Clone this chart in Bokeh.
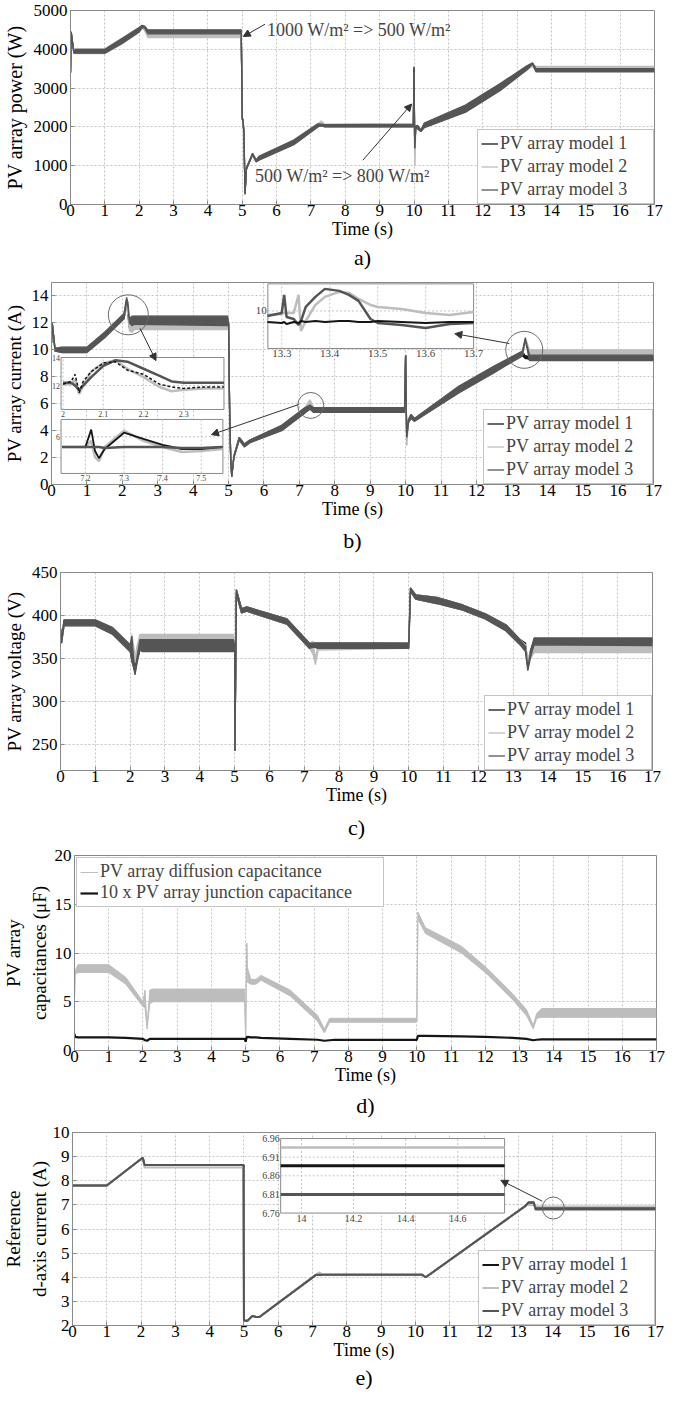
from bokeh.plotting import figure
from bokeh.models import Range1d, FixedTicker, Legend, LegendItem, Arrow, NormalHead, Title, Label
from bokeh.layouts import column
from bokeh.embed import file_html
from bokeh.resources import INLINE

FONT = "Liberation Serif"
C1, C2, C3 = "#151515", "#bdbdbd", "#555555"
GRID = "#c4c4c4"
EDGE = "#8a8a8a"

# ---------------- data ----------------
X_TICKS = list(range(0, 18))
MODEL_NAMES = ["PV array model 1", "PV array model 2", "PV array model 3"]
CAP_NAMES = ["PV array diffusion capacitance", "10 x PV array junction capacitance"]

# a) PV array power (W): noisy band low / high
A_T = [0, 0.02, 0.05, 0.1, 0.15, 0.3, 1.0, 1.5, 2.0, 2.08, 2.15, 2.25, 2.35, 4.97, 5.0, 5.02, 5.05, 5.08, 5.12, 5.3,
       5.4, 5.5, 6.5, 7.2, 7.3, 7.4, 9.98, 10.0, 10.02, 10.05, 10.1, 10.2, 10.3, 11.5, 12.5, 13.3, 13.45, 13.55, 17.0]
A_M1_LO = [3400, 4440, 4200, 3900, 3920, 3920, 3920, 4170, 4470, 4560, 4560, 4420, 4420, 4420, 2200, 2150, 1800, 260, 900, 1290,
           1110, 1170, 1560, 2010, 2030, 2010, 2010, 3500, 1400, 1990, 1960, 1890, 2000, 2400, 2950, 3490, 3600, 3440, 3440]
A_M1_HI = [3400, 4440, 4240, 3940, 3980, 3980, 3980, 4260, 4540, 4600, 4590, 4480, 4480, 4480, 2200, 2200, 1840, 280, 940, 1310,
           1140, 1230, 1640, 2060, 2060, 2050, 2050, 3500, 1400, 2010, 2030, 1910, 2080, 2540, 3090, 3560, 3630, 3480, 3480]
A_M2_LO = [3400, 4450, 4200, 3900, 3890, 3890, 3890, 4140, 4440, 4540, 4500, 4300, 4300, 4300, 2200, 2150, 1800, 280, 900, 1280,
           1100, 1150, 1540, 2000, 2080, 2010, 2000, 3400, 1000, 1980, 1950, 1880, 1980, 2380, 2930, 3480, 3560, 3450, 3450]
A_M2_HI = [3400, 4450, 4250, 3950, 4010, 4010, 4010, 4290, 4570, 4600, 4580, 4500, 4500, 4500, 2200, 2200, 1850, 300, 950, 1320,
           1150, 1250, 1660, 2080, 2150, 2070, 2070, 3400, 1000, 2020, 2040, 1920, 2100, 2560, 3110, 3580, 3620, 3560, 3560]
A_M3_LO = [3400, 4450, 4200, 3900, 3900, 3900, 3900, 4150, 4450, 4550, 4560, 4400, 4400, 4400, 2200, 2150, 1800, 280, 900, 1280,
           1100, 1150, 1540, 2000, 2030, 2000, 2000, 3550, 1450, 1980, 1950, 1880, 1980, 2380, 2930, 3480, 3620, 3420, 3420]
A_M3_HI = [3400, 4450, 4250, 3950, 4000, 4000, 4000, 4280, 4560, 4620, 4600, 4500, 4500, 4500, 2200, 2200, 1850, 300, 950, 1320,
           1150, 1250, 1660, 2080, 2070, 2060, 2070, 3550, 1450, 2020, 2040, 1920, 2100, 2560, 3110, 3580, 3650, 3500, 3500]
A_Y_TICKS = [0, 1000, 2000, 3000, 4000, 5000]

# b) PV array current (A)
B_T = [0, 0.02, 0.1, 0.3, 1.0, 1.5, 2.05, 2.12, 2.16, 2.2, 2.27, 2.35, 4.97, 5.0, 5.03, 5.06, 5.09, 5.15, 5.3, 5.45,
       5.6, 6.5, 7.15, 7.3, 7.4, 9.97, 10.0, 10.03, 10.08, 10.15, 10.25, 11.5, 12.5, 13.3, 13.38, 13.42, 13.5, 13.6, 17.0]
B_M1_LO = [10.5, 12.0, 9.9, 9.85, 9.85, 10.95, 12.35, 13.5, 12.5, 11.6, 11.9, 11.9, 11.9, 12.0, 5.5, 2.0, 0.6, 2.0, 3.3, 2.8,
           3.1, 4.05, 5.35, 5.6, 5.4, 5.4, 9.6, 3.5, 4.6, 4.9, 4.7, 6.85, 8.35, 9.55, 9.35, 9.35, 9.3, 9.3, 9.3]
B_M1_HI = [10.5, 12.0, 10.1, 10.15, 10.15, 11.25, 12.65, 13.7, 12.8, 11.9, 12.4, 12.4, 12.4, 12.0, 5.5, 2.0, 0.6, 2.1, 3.5, 3.0,
           3.3, 4.35, 5.65, 6.1, 5.65, 5.65, 9.6, 3.5, 4.8, 5.2, 4.9, 7.25, 8.75, 9.85, 9.55, 9.55, 9.5, 9.5, 9.5]
B_M2_LO = [10.5, 12.0, 9.9, 9.8, 9.8, 10.9, 12.3, 13.4, 12.6, 11.4, 11.3, 11.5, 11.5, 12.0, 5.5, 2.0, 0.6, 2.0, 3.3, 2.8,
           3.1, 4.0, 5.3, 5.8, 5.35, 5.35, 9.6, 2.9, 4.6, 4.9, 4.7, 6.8, 8.3, 9.6, 10.5, 10.4, 9.4, 9.4, 9.4]
B_M2_HI = [10.5, 12.0, 10.1, 10.2, 10.2, 11.3, 12.7, 13.7, 12.9, 11.8, 12.4, 12.5, 12.5, 12.0, 5.5, 2.0, 0.6, 2.1, 3.5, 3.0,
           3.3, 4.4, 5.7, 6.3, 5.7, 5.7, 9.6, 2.9, 4.8, 5.2, 4.9, 7.3, 8.8, 9.9, 10.8, 10.6, 10.0, 10.0, 10.0]
B_M3_LO = [10.5, 12.0, 9.9, 9.8, 9.8, 10.9, 12.3, 13.6, 13.2, 12.0, 11.8, 11.9, 11.8, 12.0, 5.5, 2.0, 0.6, 2.0, 3.3, 2.8,
           3.1, 4.0, 5.3, 5.6, 5.35, 5.35, 9.6, 3.5, 4.6, 4.9, 4.7, 6.8, 8.3, 9.6, 10.8, 10.2, 9.2, 9.2, 9.2]
B_M3_HI = [10.5, 12.0, 10.1, 10.2, 10.2, 11.3, 12.7, 13.9, 13.5, 12.3, 12.5, 12.5, 12.5, 12.0, 5.5, 2.0, 0.6, 2.1, 3.5, 3.0,
           3.3, 4.4, 5.7, 5.9, 5.7, 5.7, 9.6, 3.5, 4.8, 5.2, 4.9, 7.3, 8.8, 9.9, 10.9, 10.4, 9.6, 9.6, 9.6]
B_Y_TICKS = [0, 2, 4, 6, 8, 10, 12, 14]

# b) zoomed insets
BI1_T = [2.0, 2.02, 2.03, 2.04, 2.05, 2.07, 2.1, 2.13, 2.16, 2.2, 2.24, 2.27, 2.3, 2.35, 2.4]
BI1_M1 = [12.1, 12.3, 12.8, 11.5, 12.3, 13.0, 13.6, 13.7, 13.1, 12.8, 12.1, 11.9, 11.8, 11.9, 11.9]
BI1_M2 = [12.1, 12.1, 12.4, 11.4, 12.0, 13.0, 13.6, 13.8, 13.2, 12.6, 11.9, 11.6, 11.7, 11.8, 11.8]
BI1_M3 = [12.2, 12.2, 12.0, 11.7, 12.0, 12.6, 13.4, 13.8, 13.7, 13.2, 12.7, 12.3, 12.2, 12.2, 12.2]
BI1_X_TICKS, BI1_X_LABELS = [2.0, 2.1, 2.2, 2.3], ["2", "2.1", "2.2", "2.3"]
BI1_Y_TICKS, BI1_Y_LABELS = [12, 14], ["12", "14"]

BI2_T = [7.14, 7.2, 7.215, 7.225, 7.235, 7.25, 7.3, 7.35, 7.4, 7.45, 7.5, 7.555]
BI2_M1 = [5.5, 5.5, 6.35, 5.3, 4.95, 5.4, 6.2, 5.9, 5.6, 5.4, 5.4, 5.5]
BI2_M2 = [5.5, 5.5, 5.8, 5.0, 4.8, 5.5, 6.3, 5.8, 5.5, 5.25, 5.3, 5.4]
BI2_M3 = [5.5, 5.5, 5.5, 5.5, 5.5, 5.45, 5.5, 5.5, 5.5, 5.45, 5.45, 5.5]
BI2_X_TICKS, BI2_X_LABELS = [7.2, 7.3, 7.4, 7.5], ["7.2", "7.3", "7.4", "7.5"]
BI2_Y_TICKS, BI2_Y_LABELS = [6], ["6"]

BI3_T = [13.27, 13.3, 13.305, 13.31, 13.325, 13.335, 13.34, 13.35, 13.37, 13.39, 13.42, 13.44, 13.46, 13.485, 13.5,
         13.55, 13.6, 13.65, 13.7]
BI3_M1 = [9.45, 9.4, 9.45, 9.35, 9.45, 9.4, 9.5, 9.45, 9.5, 9.45, 9.5, 9.5, 9.45, 9.45, 9.5, 9.45, 9.4, 9.45, 9.45]
BI3_M2 = [9.8, 9.85, 9.9, 9.9, 9.9, 10.8, 9.0, 9.5, 10.3, 10.7, 10.95, 10.9, 10.6, 10.3, 10.2, 10.1, 9.9, 9.8, 9.95]
BI3_M3 = [9.75, 9.9, 10.8, 9.7, 9.6, 9.3, 9.5, 10.2, 10.7, 11.1, 11.0, 10.8, 10.5, 9.6, 9.4, 9.3, 9.15, 9.35, 9.4]
BI3_X_TICKS, BI3_X_LABELS = [13.3, 13.4, 13.5, 13.6, 13.7], ["13.3", "13.4", "13.5", "13.6", "13.7"]
BI3_Y_TICKS, BI3_Y_LABELS = [10], ["10"]

# c) PV array voltage (V)
C_T = [0, 0.03, 0.1, 0.3, 1.0, 1.5, 2.0, 2.05, 2.1, 2.14, 2.2, 2.28, 2.35, 4.97, 5.0, 5.01, 5.05, 5.2, 5.35, 6.5,
       7.15, 7.25, 7.32, 7.4, 9.98, 10.0, 10.05, 10.2, 10.8, 11.5, 12.2, 12.8, 13.2, 13.35, 13.42, 13.5, 13.6, 17.0]
C_M1_LO = [385, 368, 389, 389, 389, 379, 359, 350, 340, 334, 348, 361, 360, 360, 365, 243, 425, 403, 405, 390,
           362, 363, 363, 362, 362, 362, 428, 419, 414, 407, 396, 382, 366, 362, 340, 355, 366, 365]
C_M1_HI = [385, 372, 394, 394, 394, 385, 365, 372, 350, 338, 352, 370, 370, 370, 365, 243, 430, 408, 410, 396,
           368, 368, 368, 368, 368, 368, 432, 424, 421, 413, 402, 389, 372, 368, 345, 360, 372, 372]
C_M2_LO = [385, 368, 388, 388, 388, 378, 358, 360, 350, 345, 355, 366, 365, 365, 365, 243, 425, 403, 405, 390,
           362, 355, 343, 360, 362, 362, 428, 419, 414, 407, 396, 382, 366, 360, 345, 350, 357, 357]
C_M2_HI = [385, 372, 395, 395, 395, 386, 366, 378, 365, 352, 365, 378, 378, 378, 365, 243, 430, 408, 410, 396,
           368, 370, 350, 366, 368, 368, 432, 424, 421, 413, 402, 389, 372, 366, 350, 358, 368, 368]
C_M3_LO = [385, 368, 388, 388, 388, 378, 358, 346, 340, 331, 345, 360, 358, 358, 365, 243, 425, 403, 405, 390,
           362, 363, 363, 362, 362, 362, 428, 419, 414, 407, 396, 382, 366, 358, 336, 352, 366, 365]
C_M3_HI = [385, 372, 395, 395, 395, 386, 366, 376, 350, 336, 352, 372, 372, 372, 365, 243, 430, 408, 410, 396,
           368, 368, 368, 368, 368, 368, 432, 424, 421, 413, 402, 389, 372, 364, 340, 358, 374, 374]
C_Y_TICKS = [250, 300, 350, 400, 450]

# d) PV array capacitances (uF)
D_T = [0, 0.02, 0.1, 0.3, 1.0, 1.5, 2.0, 2.06, 2.12, 2.2, 2.3, 4.97, 5.0, 5.03, 5.05, 5.15, 5.3, 5.45, 6.3, 7.1,
       7.3, 7.45, 7.6, 9.98, 10.0, 10.03, 10.25, 11.3, 12.0, 12.8, 13.2, 13.4, 13.5, 13.65, 17.0]
D_DIFF_LO = [5.3, 7.8, 8.0, 8.0, 8.0, 6.8, 4.5, 4.4, 2.2, 4.8, 5.0, 5.0, 1.2, 11.0, 7.0, 6.8, 6.8, 7.2, 5.6, 3.0,
             1.8, 2.9, 2.9, 2.9, 3.0, 13.5, 12.0, 10.0, 8.0, 5.2, 3.6, 2.2, 3.3, 3.4, 3.4]
D_DIFF_HI = [5.3, 8.2, 8.8, 8.8, 8.8, 7.5, 5.0, 6.2, 2.6, 6.2, 6.3, 6.3, 1.2, 11.0, 8.5, 7.3, 7.3, 7.7, 6.2, 3.6,
             2.2, 3.3, 3.3, 3.3, 3.0, 14.2, 12.6, 10.7, 8.6, 5.8, 4.2, 2.6, 3.8, 4.3, 4.3]
D_JUNC = [1.7, 1.4, 1.35, 1.35, 1.35, 1.3, 1.2, 1.05, 1.0, 1.2, 1.2, 1.2, 0.9, 1.35, 1.4, 1.35, 1.35, 1.3, 1.2, 1.1,
          1.0, 1.05, 1.1, 1.1, 1.1, 1.5, 1.5, 1.45, 1.4, 1.3, 1.2, 1.05, 1.1, 1.15, 1.15]
D_Y_TICKS = [0, 5, 10, 15, 20]

# e) Reference d-axis current (A)
E_T = [0, 1.0, 2.0, 2.05, 2.1, 4.99, 5.0, 5.1, 5.25, 5.35, 5.45, 7.1, 7.2, 7.3, 10.2, 10.3, 13.2, 13.3, 13.45, 13.5, 17.0]
E_M1 = [7.8, 7.8, 8.9, 8.95, 8.65, 8.65, 2.2, 2.2, 2.4, 2.35, 2.35, 4.1, 4.1, 4.1, 4.1, 4.0, 6.95, 7.1, 7.1, 6.88, 6.88]
E_M2 = [7.8, 7.8, 8.9, 8.95, 8.55, 8.55, 2.2, 2.2, 2.4, 2.35, 2.35, 4.1, 4.2, 4.1, 4.1, 4.0, 6.95, 7.0, 6.98, 6.935, 6.935]
E_M3 = [7.8, 7.8, 8.9, 8.95, 8.65, 8.65, 2.2, 2.2, 2.4, 2.35, 2.35, 4.1, 4.1, 4.1, 4.1, 4.0, 6.95, 7.1, 7.1, 6.81, 6.81]
E_Y_TICKS = [2, 3, 4, 5, 6, 7, 8, 9, 10]

EI_T = [13.92, 14.78]
EI_M1 = [6.887, 6.887]
EI_M2 = [6.936, 6.936]
EI_M3 = [6.81, 6.81]
EI_X_TICKS, EI_X_LABELS = [14.0, 14.2, 14.4, 14.6], ["14", "14.2", "14.4", "14.6"]
EI_Y_TICKS, EI_Y_LABELS = [6.76, 6.81, 6.86, 6.91, 6.96], ["6.76", "6.81", "6.86", "6.91", "6.96"]


# ---------------- helpers ----------------
def make_panel(frame_w, frame_h, left, top, bottom, yr, yticks, ylabel, ylab_size, ylab_standoff,
               caption, cap_offset, cap_standoff):
    p = figure(frame_width=frame_w, frame_height=frame_h, x_range=Range1d(0, 17), y_range=Range1d(*yr),
               output_backend="svg", toolbar_location=None,
               min_border_left=left, min_border_right=668 - left - frame_w,
               min_border_top=top, min_border_bottom=bottom)
    try:
        p.frame_align = False
    except Exception:
        pass
    p.background_fill_color = "white"
    p.border_fill_color = "white"
    p.outline_line_color = EDGE
    p.outline_line_width = 1
    p.xaxis.ticker = FixedTicker(ticks=X_TICKS)
    p.yaxis.ticker = FixedTicker(ticks=yticks)
    p.grid.grid_line_color = GRID
    p.grid.grid_line_dash = "2 2"
    p.grid.grid_line_width = 1
    for axes in (p.xaxis, p.yaxis):
        axes.axis_line_color = EDGE
        axes.major_tick_line_color = EDGE
        axes.major_tick_in = 4
        axes.major_tick_out = 0
        axes.minor_tick_line_color = None
        axes.major_label_text_font = FONT
        axes.major_label_text_font_size = "17px"
        axes.major_label_text_font_style = "normal"
        axes.major_label_text_color = "black"
        axes.axis_label_text_font = FONT
        axes.axis_label_text_font_style = "normal"
        axes.axis_label_text_color = "black"
        axes.major_label_standoff = 0
    p.xaxis.axis_label = "Time (s)"
    p.xaxis.axis_label_text_font_size = "18px"
    p.xaxis.axis_label_standoff = 0
    p.yaxis.axis_label = ylabel
    p.yaxis.axis_label_text_font_size = ylab_size
    p.yaxis.axis_label_standoff = ylab_standoff
    p.yaxis.major_label_standoff = 3
    p.add_layout(Title(text=caption, align="center", offset=cap_offset, standoff=cap_standoff,
                       text_font=FONT, text_font_size="22px", text_font_style="normal",
                       text_color="black"), "below")
    return p


def band(p, t, lo, hi, color, lw=1.3, **kw):
    p.varea(x=t, y1=lo, y2=hi, fill_color=color, **kw)
    r = p.line(t, lo, line_color=color, line_width=lw, **kw)
    p.line(t, hi, line_color=color, line_width=lw, **kw)
    return r


def model_legend(p, rends, label_width):
    leg = Legend(items=[LegendItem(label=n, renderers=[r]) for n, r in zip(MODEL_NAMES, rends)],
                 location="bottom_right", margin=0, padding=3, spacing=2,
                 label_text_font=FONT, label_text_font_size="18px", label_height=19,
                 glyph_height=19, glyph_width=17, label_standoff=2, label_width=label_width,
                 border_line_color=EDGE, border_line_width=1, background_fill_alpha=1)
    p.add_layout(leg)


def add_inset(p, name, main_x, main_y, box_x, box_y, rng_x, rng_y,
              xticks, xlabels, yticks, ylabels, font_size, hgrid=None):
    kx = (rng_x[1] - rng_x[0]) / (box_x[1] - box_x[0])
    ky = (rng_y[1] - rng_y[0]) / (box_y[1] - box_y[0])
    p.extra_x_ranges[name] = Range1d(rng_x[0] + (main_x[0] - box_x[0]) * kx,
                                     rng_x[0] + (main_x[1] - box_x[0]) * kx)
    p.extra_y_ranges[name] = Range1d(rng_y[0] + (main_y[0] - box_y[0]) * ky,
                                     rng_y[0] + (main_y[1] - box_y[0]) * ky)
    kw = dict(x_range_name=name, y_range_name=name)
    p.quad(left=[rng_x[0]], right=[rng_x[1]], bottom=[rng_y[0]], top=[rng_y[1]],
           fill_color="white", line_color=EDGE, line_width=1, **kw)
    gx = [t for t in xticks if rng_x[0] < t < rng_x[1]]
    p.segment(x0=gx, y0=[rng_y[0]] * len(gx), x1=gx, y1=[rng_y[1]] * len(gx),
              line_color=GRID, line_dash="2 2", line_width=1, **kw)
    gy = [t for t in (hgrid if hgrid is not None else yticks) if rng_y[0] < t < rng_y[1]]
    p.segment(x0=[rng_x[0]] * len(gy), y0=gy, x1=[rng_x[1]] * len(gy), y1=gy,
              line_color=GRID, line_dash="2 2", line_width=1, **kw)
    for t, s in zip(xticks, xlabels):
        p.add_layout(Label(x=t, y=rng_y[0], text=s, text_align="center", text_baseline="top",
                           y_offset=-2, text_font=FONT, text_font_size=font_size, **kw))
    for t, s in zip(yticks, ylabels):
        p.add_layout(Label(x=rng_x[0], y=t, text=s, text_align="right", text_baseline="middle",
                           x_offset=-1, text_font=FONT, text_font_size=font_size, **kw))
    return kw


def arrow(p, x0, y0, x1, y1):
    p.add_layout(Arrow(end=NormalHead(size=7, fill_color="#333333", line_color="#333333"),
                       x_start=x0, y_start=y0, x_end=x1, y_end=y1,
                       line_color="#333333", line_width=1))


def ring(p, x, y, size):
    p.scatter(x=[x], y=[y], size=size, marker="circle", fill_color=None, line_color="#6a6a6a", line_width=1)


# ---------------- panel a ----------------
pa = make_panel(584, 194, 68, 10, 68, (0, 5000), A_Y_TICKS, "PV array power (W)", "20px", 5,
                "a)", -19, 3)
r1 = band(pa, A_T, A_M1_LO, A_M1_HI, C1)
r2 = band(pa, A_T, A_M2_LO, A_M2_HI, C2)
r3 = band(pa, A_T, A_M3_LO, A_M3_HI, C3)
model_legend(pa, [r1, r2, r3], 150)
pa.add_layout(Label(x=5.72, y=4490, text="1000 W/m² => 500 W/m²", text_baseline="middle",
                    text_font=FONT, text_font_size="18px"))
pa.add_layout(Label(x=5.37, y=736, text="500 W/m² => 800 W/m²", text_baseline="middle",
                    text_font=FONT, text_font_size="18px"))
arrow(pa, 5.66, 4645, 5.03, 4330)
arrow(pa, 8.51, 1142, 9.93, 2589)

# ---------------- panel b ----------------
pb = make_panel(602, 202, 50, 10, 73, (0, 15), B_Y_TICKS, "PV array current (A)", "19px", 4,
                "b)", -12, 8)
r1 = band(pb, B_T, B_M1_LO, B_M1_HI, C1)
r2 = band(pb, B_T, B_M2_LO, B_M2_HI, C2)
r3 = band(pb, B_T, B_M3_LO, B_M3_HI, C3)
model_legend(pb, [r1, r2, r3], 143)
ring(pb, 2.17, 12.6, 40)
ring(pb, 7.32, 5.87, 26)
ring(pb, 13.35, 10.0, 37)
arrow(pb, 2.5, 11.6, 2.95, 9.2)
arrow(pb, 6.98, 5.94, 4.52, 3.7)
arrow(pb, 12.93, 10.47, 11.39, 11.2)
kw = add_inset(pb, "i1", (0, 17), (0, 15), (0.27, 4.87), (5.57, 9.43), (1.995, 2.4), (10.3, 14.0),
               BI1_X_TICKS, BI1_X_LABELS, BI1_Y_TICKS, BI1_Y_LABELS, "8px")
pb.line(BI1_T, BI1_M2, line_color=C2, line_width=2.5, **kw)
pb.line(BI1_T, BI1_M3, line_color=C3, line_width=2.5, **kw)
pb.line(BI1_T, BI1_M1, line_color=C1, line_width=1.5, line_dash="3 2", **kw)
kw = add_inset(pb, "i2", (0, 17), (0, 15), (0.27, 4.84), (0.82, 4.83), (7.137, 7.556), (4.2, 6.85),
               BI2_X_TICKS, BI2_X_LABELS, BI2_Y_TICKS, BI2_Y_LABELS, "8px")
pb.line(BI2_T, BI2_M2, line_color=C2, line_width=2.5, **kw)
pb.line(BI2_T, BI2_M1, line_color=C1, line_width=1.8, **kw)
pb.line(BI2_T, BI2_M3, line_color=C3, line_width=2.5, **kw)
kw = add_inset(pb, "i3", (0, 17), (0, 15), (6.11, 11.92), (10.1, 14.9), (13.271, 13.7), (8.13, 11.35),
               BI3_X_TICKS, BI3_X_LABELS, BI3_Y_TICKS, BI3_Y_LABELS, "11px")
pb.line(BI3_T, BI3_M2, line_color=C2, line_width=2.5, **kw)
pb.line(BI3_T, BI3_M3, line_color=C3, line_width=2.5, **kw)
pb.line(BI3_T, BI3_M1, line_color=C1, line_width=2.2, **kw)

# ---------------- panel c ----------------
pc = make_panel(592, 198, 60, 15, 75, (220, 450), C_Y_TICKS, "PV array voltage (V)", "19px", 4,
                "c)", -19, 11)
r1 = band(pc, C_T, C_M1_LO, C_M1_HI, C1)
r2 = band(pc, C_T, C_M2_LO, C_M2_HI, C2)
r3 = band(pc, C_T, C_M3_LO, C_M3_HI, C3)
model_legend(pc, [r1, r2, r3], 141)

# ---------------- panel d ----------------
pd_ = make_panel(582, 195, 70, 10, 72, (0, 20), D_Y_TICKS, "PV array\ncapacitances (μF)", "19px", 2,
                 "d)", -22, 7)
rd = band(pd_, D_T, D_DIFF_LO, D_DIFF_HI, C2, lw=1.0)
rj = pd_.line(D_T, D_JUNC, line_color=C1, line_width=2.2)
legd = Legend(items=[LegendItem(label=CAP_NAMES[0], renderers=[rd]), LegendItem(label=CAP_NAMES[1], renderers=[rj])],
              location="top_left", margin=2, padding=3, spacing=0,
              label_text_font=FONT, label_text_font_size="18px", label_height=20,
              glyph_height=20, glyph_width=18, label_standoff=2, label_width=280,
              border_line_color=EDGE, border_line_width=1, background_fill_alpha=1)
pd_.add_layout(legd)

# ---------------- panel e ----------------
pe = make_panel(583, 193, 69, 10, 65, (2, 10), E_Y_TICKS, "Reference\nd-axis current (A)", "19px", 0,
                "e)", -21, 1)
r1 = pe.line(E_T, E_M1, line_color=C1, line_width=2)
r2 = pe.line(E_T, E_M2, line_color=C2, line_width=2)
r3 = pe.line(E_T, E_M3, line_color=C3, line_width=2)
model_legend(pe, [r1, r2, r3], 150)
ring(pe, 14.02, 6.87, 22)
arrow(pe, 13.7, 7.15, 12.49, 8.02)
kw = add_inset(pe, "ie", (0, 17), (2, 10), (6.07, 12.6), (6.66, 9.75), (13.92, 14.78), (6.76, 6.96),
               EI_X_TICKS, EI_X_LABELS, EI_Y_TICKS, EI_Y_LABELS, "10px")
pe.line(EI_T, EI_M2, line_color=C2, line_width=2.5, **kw)
pe.line(EI_T, EI_M1, line_color=C1, line_width=3, **kw)
pe.line(EI_T, EI_M3, line_color=C3, line_width=3, **kw)

layout = column(pa, pb, pc, pd_, pe, spacing=0)
open("out.html", "w").write(file_html(layout, INLINE))
